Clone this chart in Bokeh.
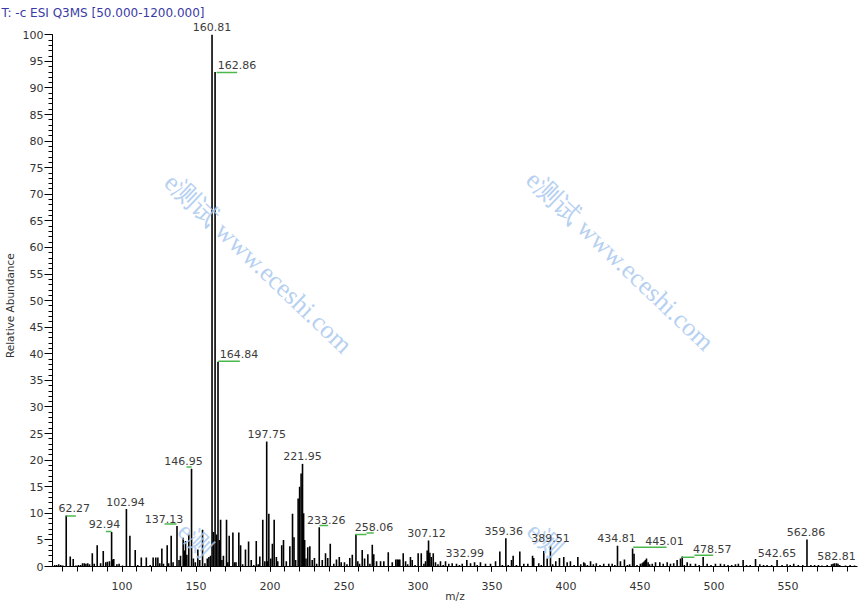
from bokeh.plotting import figure
from bokeh.models import Range1d, SingleIntervalTicker, Label, LabelSet, ColumnDataSource
from bokeh.core.properties import value
from bokeh.embed import file_html
from bokeh.resources import INLINE

# ---- data ----
peak_mz = [54.5, 55.8, 57.2, 58.6, 60.0, 62.27, 65.0, 67.0, 68.8, 70.5, 72.0,
           73.3, 74.5, 75.6, 76.8, 78.0, 79.9, 81.2, 83.2, 85.5, 87.3, 89.0, 90.1, 91.5, 92.94,
           93.6, 94.4, 96.5, 98.0, 100.3, 102.94, 105.3, 108.9, 110.6, 113.0, 116.4, 119.0,
           121.0, 122.8, 124.2, 125.5, 126.9, 128.0, 130.5, 131.5, 133.2, 134.5, 137.13, 138.5,
           139.5, 141.3, 142.2, 142.9, 143.8, 145.1, 146.95, 148.2, 149.5, 151.2, 152.5, 154.4,
           156.0, 157.6, 158.7, 159.8, 160.81, 161.8, 162.86, 163.8, 164.84, 165.8, 166.6, 167.5,
           168.5, 170.6, 171.5, 172.4, 174.9, 176.0, 177.0, 178.9, 180.1, 181.5, 183.4, 185.5,
           187.3, 189.0, 190.7, 192.0, 193.1, 195.1, 196.5, 197.75, 198.5, 199.2, 200.5, 201.6,
           202.8, 204.3, 205.2, 207.9, 209.1, 211.0, 213.4, 215.2, 216.2, 217.3, 219.0, 220.0,
           221.0, 221.95, 222.7, 223.4, 224.3, 225.5, 226.9, 228.5, 230.0, 231.5, 233.26, 235.3,
           237.5, 239.0, 240.7, 243.1, 244.9, 246.8, 248.1, 250.3, 252.0, 253.9, 255.6, 258.06,
           259.3, 260.5, 262.3, 263.9, 266.1, 267.5, 269.1, 270.1, 272.0, 274.7, 276.9, 279.9,
           282.6, 285.0, 286.0, 286.8, 287.7, 290.0, 291.6, 293.0, 294.9, 296.1, 298.0, 300.1,
           302.2, 304.0, 305.1, 306.2, 307.12, 308.0, 309.0, 310.3, 311.8, 313.5, 315.2, 317.0,
           318.6, 320.8, 323.1, 326.0, 328.0, 329.9, 332.99, 335.5, 338.2, 340.0, 342.2, 345.6,
           349.0, 352.4, 355.3, 357.0, 359.36, 361.0, 363.2, 364.3, 366.5, 368.8, 371.5, 374.2,
           377.4, 378.2, 381.6, 383.3, 385.0, 387.3, 389.51, 391.0, 393.1, 395.6, 398.5, 400.8,
           403.0, 405.5, 408.0, 410.0, 412.0, 412.8, 414.5, 416.6, 418.5, 420.5, 423.0, 425.5,
           428.9, 431.2, 433.0, 434.81, 436.8, 439.5, 441.5, 443.0, 445.01, 446.0, 448.0, 450.3,
           451.5, 452.2, 453.0, 453.7, 454.4, 455.5, 456.5, 458.3, 460.5, 463.4, 465.7, 468.4,
           470.6, 472.8, 475.1, 477.4, 478.57, 480.0, 481.9, 484.1, 487.5, 490.0, 492.7, 495.4,
           498.0, 501.0, 504.4, 507.0, 509.5, 512.0, 514.5, 516.5, 519.7, 522.0, 524.5, 528.1,
           531.0, 533.5, 535.9, 539.0, 542.65, 546.0, 549.4, 551.5, 553.9, 557.0, 560.0, 562.86,
           565.5, 568.0, 570.6, 573.0, 576.5, 579.5, 580.5, 581.5, 582.81, 583.8, 585.0, 588.9,
           592.0, 595.0]
peak_int = [0.3, 0.3, 0.4, 0.3, 0.2, 9.6, 1.9, 1.4, 0.2, 0.3, 0.3,
            0.6, 0.6, 0.5, 0.6, 0.4, 2.5, 0.5, 4.0, 0.6, 2.9, 0.8, 0.9, 1.0, 6.5,
            1.3, 1.4, 0.4, 0.5, 0.2, 10.8, 5.8, 3.1, 0.3, 1.7, 1.7, 0.3,
            1.7, 1.7, 1.7, 0.6, 3.4, 0.5, 4.0, 0.6, 5.8, 0.8, 7.6, 1.2,
            2.0, 5.4, 3.0, 4.8, 2.2, 6.0, 18.4, 1.5, 0.8, 3.2, 1.2, 6.9,
            0.6, 1.5, 1.8, 2.0, 100.0, 6.5, 93.0, 6.0, 38.5, 5.0, 8.8, 1.2,
            2.0, 8.8, 0.8, 5.8, 6.4, 0.8, 0.8, 6.4, 4.0, 0.4, 3.2, 4.7,
            1.2, 0.3, 4.8, 0.4, 1.9, 8.8, 1.0, 23.5, 1.0, 9.9, 1.5, 4.3,
            8.8, 1.8, 1.0, 4.0, 5.0, 1.0, 3.8, 9.9, 5.5, 1.2, 12.8, 15.0,
            17.5, 19.3, 10.0, 5.0, 1.5, 3.6, 3.8, 1.2, 1.6, 0.5, 7.4, 1.2,
            2.5, 1.6, 4.3, 0.5, 1.3, 1.8, 0.8, 0.8, 0.4, 1.6, 2.2, 6.0,
            1.0, 0.5, 3.1, 1.5, 2.3, 0.5, 4.1, 2.3, 1.0, 1.0, 1.0, 2.7,
            0.8, 1.3, 1.3, 1.3, 1.3, 2.5, 1.0, 0.4, 1.8, 1.2, 0.3, 2.5,
            2.5, 0.5, 1.0, 3.0, 4.9, 2.6, 1.8, 2.5, 0.8, 0.4, 1.0, 0.3,
            1.0, 0.5, 0.6, 0.5, 0.3, 0.5, 1.2, 0.6, 0.8, 0.3, 0.8, 0.5,
            0.5, 1.0, 2.8, 0.3, 5.3, 0.3, 1.2, 2.0, 0.3, 2.8, 0.5, 0.5,
            2.0, 1.6, 0.6, 0.3, 2.9, 1.5, 3.9, 0.4, 1.0, 1.6, 1.8, 0.8,
            1.0, 0.3, 1.8, 0.4, 0.8, 0.6, 0.3, 1.0, 0.4, 0.6, 0.3, 0.5,
            0.5, 0.5, 0.3, 3.9, 1.0, 1.3, 0.3, 0.4, 3.4, 2.4, 0.3, 0.5,
            0.6, 0.8, 1.0, 1.2, 1.5, 0.8, 0.4, 0.5, 0.8, 0.8, 0.5, 0.8,
            0.5, 0.6, 1.2, 1.5, 1.9, 0.3, 0.8, 0.5, 0.5, 0.3, 1.8, 0.5,
            0.3, 0.5, 0.5, 0.4, 0.3, 0.3, 0.4, 0.5, 1.2, 0.3, 0.3, 1.4,
            0.4, 0.3, 0.3, 0.3, 1.2, 0.3, 0.4, 0.3, 0.5, 0.3, 0.3, 5.1,
            0.3, 0.3, 0.3, 0.2, 0.3, 0.4, 0.5, 0.6, 0.6, 0.5, 0.3, 0.2,
            0.3, 0.2]

label_mz = [62.27, 92.94, 102.94, 137.13, 146.95, 160.81, 162.86, 164.84, 197.75, 221.95,
            233.26, 258.06, 307.12, 332.99, 359.36, 389.51, 434.81, 445.01, 478.57, 542.65,
            562.86, 582.81]
label_int = [9.6, 6.5, 10.8, 7.6, 18.4, 100.0, 93.0, 38.5, 23.5, 19.3,
             7.4, 6.0, 4.9, 1.2, 5.3, 3.9, 3.9, 3.4, 1.9, 1.2,
             5.1, 0.6]
label_shift_px = [8, -7, -1, -13, -8, 0, 22, 21, 0, 0,
                  7, 18, -2, -2, -2, 0, -1, 32, 30, 0,
                  -1, 0]

# green peak-marker segments (m/z start, m/z end, level)
mark_x0 = [62.3, 89.1, 128.7, 143.6, 163.9, 165.0, 233.4, 257.8, 265.2, 445.4, 478.5, 486.8]
mark_x1 = [68.8, 92.9, 136.8, 147.0, 177.8, 179.6, 239.3, 265.2, 270.1, 468.0, 486.8, 499.5]
mark_y = [9.5, 6.6, 8.0, 18.7, 92.9, 38.6, 7.7, 6.0, 6.3, 3.6, 1.75, 2.1]

title_text = "T: -c ESI Q3MS [50.000-1200.000]"
watermark_text = ["e测试 www.eceshi.com", "e测试 www.eceshi.com", "e测", "e测"]
wm_x = [131.5, 376.0, 140.5, 376.5]
wm_y = [73.0, 73.5, 7.4, 7.4]

FONT = "DejaVu Sans"
NBSP = "\u00a0"

p = figure(width=865, height=604, output_backend="svg", toolbar_location=None,
           x_range=Range1d(53, 597), y_range=Range1d(0, 102.5),
           min_border_left=52, min_border_right=8, min_border_top=21, min_border_bottom=38)
p.outline_line_color = None
p.xgrid.visible = False
p.ygrid.visible = False
p.background_fill_color = "white"
p.border_fill_color = "white"

p.title.text = title_text
p.title.align = "left"
p.title.offset = -51
p.title.vertical_align = "middle"
p.title.text_font = FONT
p.title.text_font_size = "12px"
p.title.text_font_style = "normal"
p.title.text_color = "#3a3aa6"
p.title.standoff = 2

# axes
p.xaxis.ticker = SingleIntervalTicker(interval=50, num_minor_ticks=5)
p.yaxis.ticker = SingleIntervalTicker(interval=5, num_minor_ticks=5)
p.yaxis.bounds = (0, 100)
for ax in (p.xaxis[0], p.yaxis[0]):
    ax.axis_line_color = "black"
    ax.major_tick_line_color = "black"
    ax.minor_tick_line_color = "black"
    ax.major_tick_in = 0
    ax.minor_tick_in = 0
    ax.major_label_text_font = FONT
    ax.major_label_text_font_size = "11px"
    ax.major_label_text_color = "#333333"
    ax.axis_label_text_font = FONT
    ax.axis_label_text_font_size = "10.5px"
    ax.axis_label_text_font_style = "normal"
    ax.axis_label_text_color = "#333333"
p.xaxis.major_tick_out = 5
p.xaxis.minor_tick_out = 5
p.xaxis.major_label_standoff = 10
p.xaxis.axis_label = "m/z"
p.xaxis.axis_label_standoff = -3
p.yaxis.major_tick_out = 8
p.yaxis.minor_tick_out = 4
p.yaxis.major_label_standoff = 1
p.yaxis.axis_label = "Relative Abundance" + NBSP * 7
p.yaxis.axis_label_standoff = 4

# watermarks
for wt, wx, wy in zip(watermark_text, wm_x, wm_y):
    p.add_layout(Label(x=wx, y=wy, text=wt, angle=-0.76,
                       text_font="Liberation Serif", text_font_size="26px",
                       text_color="#a9c8ef", text_alpha=0.85,
                       text_align="left", text_baseline="middle"))

# spectrum sticks
src = ColumnDataSource(dict(x=peak_mz, y=peak_int, y0=[0] * len(peak_mz)))
p.segment(x0="x", y0="y0", x1="x", y1="y", source=src, line_color="black", line_width=1.6)

# green markers
p.segment(x0=mark_x0, y0=mark_y, x1=mark_x1, y1=mark_y, line_color="#4cb84c", line_width=1.5)

# peak labels
lab_src = ColumnDataSource(dict(x=label_mz, y=label_int,
                                text=[f"{v:.2f}" for v in label_mz], dx=label_shift_px))
p.add_layout(LabelSet(x="x", y="y", text="text", source=lab_src, x_offset="dx", y_offset=3.5,
                      text_align="center", text_baseline="alphabetic", text_font=value(FONT),
                      text_font_size=value("11px"), text_color="#3c3c3c"))

open("out.html", "w").write(file_html(p, INLINE))
